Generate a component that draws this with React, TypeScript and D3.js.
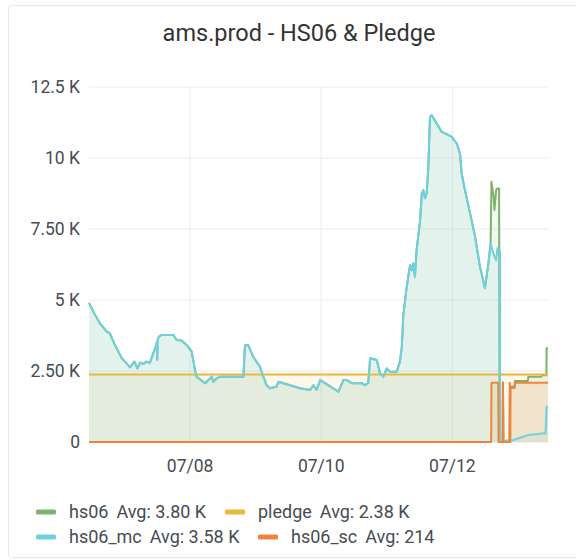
import { useMemo } from "react";
import * as d3 from "d3";

// ── Data (hours after 07/06 00:00, value in HS06) ────────────────────────────

const START = new Date(2020, 6, 6, 0, 0);
const RANGE_HOURS: [number, number] = [11, 179];

const hs06McPoints: [number, number][] = [
  [11, 4900], [12.6, 4590], [15, 4180], [17.5, 3890], [18.6, 3830], [20.5, 3410],
  [23, 2950], [24.2, 2830], [26, 2630], [27.6, 2830], [28.7, 2590], [29.7, 2790],
  [30.9, 2750], [32.1, 2830], [33.3, 2790], [34.5, 3120], [35.4, 3350], [35.8, 3500],
  [36, 2900], [36.1, 3600], [36.6, 3710], [37.6, 3770], [41.9, 3770], [43.1, 3590],
  [44.9, 3570], [46.8, 3410], [48.6, 3180], [49.8, 2530], [50.4, 2300], [53.5, 2070],
  [54.7, 2180], [55.9, 2300], [56.5, 2120], [57.7, 2240], [59, 2300], [67.5, 2300],
  [68.1, 3410], [69.3, 3410], [71.1, 3000], [73.6, 2650], [74.8, 2300], [76, 2000],
  [77.3, 1890], [79.7, 1950], [80.3, 2120], [84.6, 2000], [88.2, 1890], [91.9, 1830],
  [93.1, 2000], [94.3, 1830], [95.6, 2180], [97.4, 2070], [100.4, 1890], [102.3, 1770],
  [104.1, 2180], [105.3, 2180], [107.2, 2070], [110.8, 2070], [112, 2000], [113.2, 2070],
  [113.9, 2950], [116.3, 2890], [117.5, 2420], [118.7, 2300], [120, 2590], [121.2, 2470],
  [123.6, 2470], [124.8, 2830], [125.5, 3350], [126, 4410], [127.3, 5470], [128.5, 6230],
  [129.1, 6050], [129.7, 6290], [130.3, 5820], [130.9, 6760], [132.2, 7810], [132.8, 8750],
  [133.4, 8870], [134, 8580], [134.6, 8750], [135.2, 9690], [135.8, 11450], [136.4, 11510],
  [138.2, 11220], [140.1, 10920], [141.3, 10870], [143.7, 10750], [145.6, 10510],
  [146.8, 10160], [147.4, 9460], [148.6, 8870], [150.5, 8050], [152.3, 7230], [154.1, 6170],
  [154.7, 5940], [155.9, 5410], [157.2, 6290], [158, 7000], [159, 6640], [160, 6400],
  [160.5, 6820], [161.2, 6760], [161.4, 6700], [161.5, 0], [164, 50], [166.3, 70],
  [168.8, 150], [171.8, 250], [176.7, 300], [178.1, 300], [178.5, 1240], [179, 1240],
];

const hs06ScPoints: [number, number][] = [
  [11, 0], [158.2, 0], [158.3, 2090], [160.8, 2090], [160.9, 0], [162.4, 0],
  [162.5, 2090], [162.7, 0], [164.9, 0], [165, 2090], [165.2, 0], [165.3, 1900],
  [166.8, 1900], [166.9, 2090], [179, 2090],
];

// hs06 runs on top of hs06_mc until hs06_sc starts, so it is hidden there
const hs06TailPoints: [number, number][] = [
  [158.3, 9160], [159.1, 8630], [159.4, 8170], [160, 8870], [160.5, 8930], [161.1, 8930],
  [161.3, 0], [162.4, 0], [162.5, 2100], [162.7, 0], [165, 0], [165.1, 1950], [166.8, 1950],
  [166.9, 2150], [171.6, 2150], [171.8, 2300], [176.6, 2300], [176.8, 2350], [178.4, 2350],
  [178.5, 3300], [179, 3300],
];
const hs06Points: [number, number][] = [
  ...hs06McPoints.filter((p) => p[0] < 158.3),
  ...hs06TailPoints,
];

const pledgePoints: [number, number][] = [[11, 2380], [179, 2380]];

const yTicks = [0, 2500, 5000, 7500, 10000, 12500];
const yTickLabels = ["0", "2.50 K", "5 K", "7.50 K", "10 K", "12.5 K"];
const xTickHours = [48, 96, 144];
const xTickLabels = ["07/08", "07/10", "07/12"];

const seriesNames = ["hs06", "pledge", "hs06_mc", "hs06_sc"];
const seriesAvg = ["3.80 K", "2.38 K", "3.58 K", "214"];
const seriesColours = ["#7EB26D", "#EAB839", "#6ED0E0", "#EF843C"];

// ── Layout ────────────────────────────────────────────────────────────────────

const W = 576;
const H = 560;
const PLOT = { left: 89, right: 548, top: 87, bottom: 442 };
const FONT = "Roboto, 'Noto Sans', sans-serif";
const LEGEND_X = [36, 225, 36, 258];
const LEGEND_Y = [512, 512, 537, 537];

const toDate = (h: number) => new Date(START.getTime() + h * 3600 * 1000);

export default function App() {
  const x = useMemo(
    () =>
      d3
        .scaleTime()
        .domain(RANGE_HOURS.map(toDate))
        .range([PLOT.left, PLOT.right]),
    []
  );
  const y = useMemo(
    () => d3.scaleLinear().domain([0, 12500]).range([PLOT.bottom, PLOT.top]),
    []
  );

  const line = d3
    .line<[number, number]>()
    .x((d) => x(toDate(d[0])))
    .y((d) => y(d[1]));
  const area = d3
    .area<[number, number]>()
    .x((d) => x(toDate(d[0])))
    .y0(y(0))
    .y1((d) => y(d[1]));

  const series = [hs06Points, pledgePoints, hs06McPoints, hs06ScPoints];

  return (
    <svg
      width={W}
      height={H}
      style={{ position: "absolute", left: 0, top: 0, fontFamily: FONT }}
    >
      <rect x={0} y={0} width={W} height={H} fill="#ffffff" />
      <rect
        x={8.5}
        y={5.5}
        width={620}
        height={552}
        rx={3}
        fill="#ffffff"
        stroke="#e6e6e6"
      />

      <text x={299} y={41} textAnchor="middle" fontSize={23.5} fill="#333333">
        ams.prod - HS06 &amp; Pledge
      </text>

      {/* grid */}
      {yTicks.map((t) => (
        <line
          key={`gy${t}`}
          x1={PLOT.left}
          x2={PLOT.right}
          y1={y(t)}
          y2={y(t)}
          stroke="#ececec"
        />
      ))}
      {xTickHours.map((h) => (
        <line
          key={`gx${h}`}
          x1={x(toDate(h))}
          x2={x(toDate(h))}
          y1={PLOT.top}
          y2={PLOT.bottom}
          stroke="#ececec"
        />
      ))}

      {/* fills */}
      {series.map((pts, i) => (
        <path key={`a${i}`} d={area(pts) ?? ""} fill={seriesColours[i]} opacity={0.1} />
      ))}
      {/* lines */}
      {series.map((pts, i) => (
        <path
          key={`l${i}`}
          d={line(pts) ?? ""}
          fill="none"
          stroke={seriesColours[i]}
          strokeWidth={2}
          strokeLinejoin="round"
        />
      ))}

      {/* y axis labels */}
      {yTicks.map((t, i) => (
        <text
          key={`ty${t}`}
          x={80}
          y={y(t)}
          dy="0.35em"
          textAnchor="end"
          fontSize={17.5}
          fill="#464c54"
        >
          {yTickLabels[i]}
        </text>
      ))}
      {/* x axis labels */}
      {xTickHours.map((h, i) => (
        <text
          key={`tx${h}`}
          x={x(toDate(h))}
          y={466}
          dy="0.35em"
          textAnchor="middle"
          fontSize={17.5}
          fill="#464c54"
        >
          {xTickLabels[i]}
        </text>
      ))}

      {/* legend */}
      {seriesNames.map((name, i) => (
        <g key={name}>
          <rect
            x={LEGEND_X[i]}
            y={LEGEND_Y[i] - 2.5}
            width={20}
            height={5}
            rx={1.5}
            fill={seriesColours[i]}
          />
          <text
            x={LEGEND_X[i] + 33}
            y={LEGEND_Y[i]}
            dy="0.35em"
            fontSize={18}
            fill="#464c54"
          >
            {name}
            <tspan dx={8}>Avg: {seriesAvg[i]}</tspan>
          </text>
        </g>
      ))}
    </svg>
  );
}
